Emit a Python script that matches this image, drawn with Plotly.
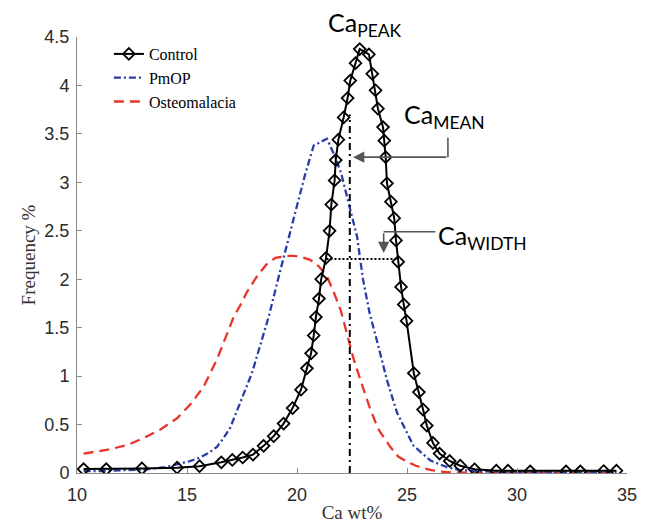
import plotly.graph_objects as go

# ---------------- data ----------------
control_x = [10.3, 11.33, 12.95, 14.55, 15.57, 16.56, 17.06, 17.53, 18.0, 18.48, 18.94, 19.39,
             19.80, 20.18, 20.45, 20.64, 20.76, 20.86, 21.0, 21.1, 21.32, 21.48, 21.56, 21.71,
             21.76, 21.88, 22.12, 22.30, 22.42, 22.66, 22.85, 23.27, 23.42, 23.57, 23.68, 23.91,
             23.97, 24.03, 24.09, 24.27, 24.42, 24.5, 24.6, 24.73, 24.85, 24.98, 25.31, 25.54,
             25.73, 25.9, 26.18, 26.48, 26.94, 27.42, 28.07, 29.06, 29.59, 30.6, 32.23, 32.88,
             33.94, 34.52]
control_y = [0.04, 0.04, 0.047, 0.055, 0.07, 0.11, 0.135, 0.16, 0.19, 0.28, 0.38, 0.51,
             0.67, 0.86, 1.08, 1.235, 1.42, 1.61, 1.80, 2.0, 2.22, 2.50, 2.77, 3.02,
             3.23, 3.44, 3.67, 3.87, 4.05, 4.23, 4.375, 4.32, 4.12, 3.95, 3.76, 3.57,
             3.43, 3.26, 2.99, 2.80, 2.63, 2.40, 2.18, 1.92, 1.74, 1.57, 1.03, 0.835,
             0.655, 0.49, 0.31, 0.20, 0.124, 0.075, 0.038, 0.024, 0.024, 0.017, 0.017, 0.017,
             0.02, 0.024]

pmop_x = [10.3, 11.3, 12.3, 13.0, 14.0, 14.55, 15.1, 15.6, 16.0, 16.36, 16.66, 16.97, 17.42,
          17.95, 18.33, 18.71, 19.24, 19.7, 20.07, 20.38, 20.76, 21.36, 21.74, 22.01, 22.27,
          22.42, 22.73, 23.0, 23.3, 23.65, 24.1, 24.55, 25.0, 25.3, 25.76, 26.06, 26.82, 27.42,
          28.0, 29.0, 30.0, 31.0, 32.0, 33.0, 34.0, 34.52]
pmop_y = [0.02, 0.02, 0.03, 0.035, 0.06, 0.09, 0.12, 0.16, 0.21, 0.27, 0.36, 0.47, 0.72,
          1.03, 1.32, 1.61, 2.09, 2.51, 2.82, 3.09, 3.38, 3.45, 3.26, 3.09, 2.85,
          2.71, 2.44, 2.0, 1.65, 1.35, 0.95, 0.62, 0.41, 0.28, 0.19, 0.13, 0.06, 0.03,
          0.02, 0.012, 0.01, 0.01, 0.01, 0.01, 0.01, 0.01]

osteo_x = [10.3, 11.5, 12.3, 13.03, 13.8, 14.55, 15.2, 15.75, 16.36, 16.8, 17.12, 17.42, 17.73,
           18.18, 18.6, 19.01, 19.5, 19.85, 20.2, 20.6, 21.0, 21.36, 21.7, 22.0, 22.27, 22.57,
           23.03, 23.3, 23.64, 23.79, 24.24, 24.6, 25.0, 25.4, 25.76, 26.1, 26.5, 27.0, 28.0,
           30.0, 32.0, 34.52]
osteo_y = [0.2, 0.245, 0.29, 0.36, 0.45, 0.565, 0.72, 0.89, 1.17, 1.42, 1.61, 1.73, 1.87,
           2.03, 2.15, 2.22, 2.24, 2.24, 2.23, 2.2, 2.13, 2.03, 1.85, 1.67, 1.44, 1.18,
           0.86, 0.68, 0.48, 0.42, 0.27, 0.17, 0.117, 0.075, 0.05, 0.03, 0.015, 0.006, 0.004,
           0.004, 0.004, 0.004]

series_names = ["Control", "PmOP", "Osteomalacia"]

ca_mean = 22.4          # vertical dash-dot line
ca_mean_top = 3.7
ca_width_y = 2.21       # half-width level
ca_width_left = 21.34
ca_width_right = 24.55

x_ticks = [10, 15, 20, 25, 30, 35]
y_ticks = [0, 0.5, 1, 1.5, 2, 2.5, 3, 3.5, 4, 4.5]
y_tick_labels = ["0", "0.5", "1", "1.5", "2", "2.5", "3", "3.5", "4", "4.5"]

# ---------------- figure ----------------
BLUE = "#2a3ca8"
RED = "#e8352c"
GRAY = "#555555"
SERIF = "Liberation Serif"

fig = go.Figure()

fig.add_trace(go.Scatter(x=osteo_x, y=osteo_y, mode="lines", name=series_names[2],
                         line=dict(color=RED, width=2.3, dash="10px,6px")))
fig.add_trace(go.Scatter(x=pmop_x, y=pmop_y, mode="lines", name=series_names[1],
                         line=dict(color=BLUE, width=2.3, dash="7px,3px,2px,3px")))
fig.add_trace(go.Scatter(x=control_x, y=control_y, mode="lines+markers", name=series_names[0],
                         line=dict(color="black", width=2),
                         marker=dict(symbol="diamond-open", size=9, color="black",
                                     line=dict(color="black", width=1.8))))

# mean line and width line
fig.add_trace(go.Scatter(x=[ca_mean, ca_mean], y=[0, ca_mean_top], mode="lines",
                         showlegend=False, hoverinfo="skip",
                         line=dict(color="black", width=2, dash="7px,4px,2px,4px")))
fig.add_trace(go.Scatter(x=[ca_width_left, ca_width_right], y=[ca_width_y, ca_width_y],
                         mode="lines", showlegend=False, hoverinfo="skip",
                         line=dict(color="black", width=2, dash="2px,2px")))

# annotation arrows (gray)
fig.add_shape(type="line", xref="x", yref="y", x0=26.86, y0=3.46, x1=26.86, y1=3.26,
              line=dict(color=GRAY, width=1.6))
fig.add_annotation(x=22.55, y=3.26, ax=26.86, ay=3.26, xref="x", yref="y",
                   axref="x", ayref="y", showarrow=True, arrowhead=2, arrowsize=1.4,
                   arrowwidth=1.6, arrowcolor=GRAY, text="")
fig.add_shape(type="line", xref="x", yref="y", x0=26.29, y0=2.49, x1=23.94, y1=2.49,
              line=dict(color=GRAY, width=1.6))
fig.add_annotation(x=23.94, y=2.27, ax=23.94, ay=2.49, xref="x", yref="y",
                   axref="x", ayref="y", showarrow=True, arrowhead=2, arrowsize=1.4,
                   arrowwidth=1.6, arrowcolor=GRAY, text="")

LBL_FONT = dict(family="Lato", size=25, color="black")

# plot area in page pixels: x 77..627, y 37..473
def px2paper(px, py):
    return (px - 77) / 550, (473 - py) / 436


for txt, (px, py) in [("Ca<sub>PEAK</sub>", (326, 24)),
                      ("Ca<sub>MEAN</sub>", (402, 116)),
                      ("Ca<sub>WIDTH</sub>", (436, 237))]:
    xp, yp = px2paper(px, py)
    fig.add_annotation(x=xp, y=yp, xref="paper", yref="paper", text=txt, showarrow=False,
                       xanchor="left", yanchor="middle", font=LBL_FONT)

# page body has an 8px margin, so the figure is offset by 8px
fig.update_layout(
    width=638, height=516,
    margin=dict(l=69, r=19, t=29, b=51),
    plot_bgcolor="white", paper_bgcolor="white",
    showlegend=True,
    legend=dict(x=0.058, y=1.0, xanchor="left", yanchor="top",
                bgcolor="rgba(0,0,0,0)", traceorder="reversed",
                font=dict(family=SERIF, size=16, color="black"),
                itemwidth=30, tracegroupgap=0),
    xaxis=dict(range=[10, 35], tickvals=x_ticks, ticks="inside", ticklen=5,
               tickcolor="#888888", showline=True, linecolor="#888888", linewidth=1,
               showgrid=False, zeroline=False, mirror=False, automargin=False,
               ticklabelstandoff=5,
               tickfont=dict(family="Liberation Sans", size=18, color="#2b2b2b"),
               title=dict(text="Ca wt%", font=dict(family=SERIF, size=19, color="#333333"),
                          standoff=2)),
    yaxis=dict(range=[0, 4.5], tickvals=y_ticks, ticktext=y_tick_labels, ticks="inside",
               ticklen=5, tickcolor="#888888", showline=True, linecolor="#888888",
               linewidth=1, showgrid=False, zeroline=False, automargin=False,
               ticklabelstandoff=3,
               tickfont=dict(family="Liberation Sans", size=18, color="#2b2b2b"),
               title=dict(text="Frequency %", font=dict(family=SERIF, size=19, color="#333333"),
                          standoff=3)),
)

fig.write_html("out.html")
